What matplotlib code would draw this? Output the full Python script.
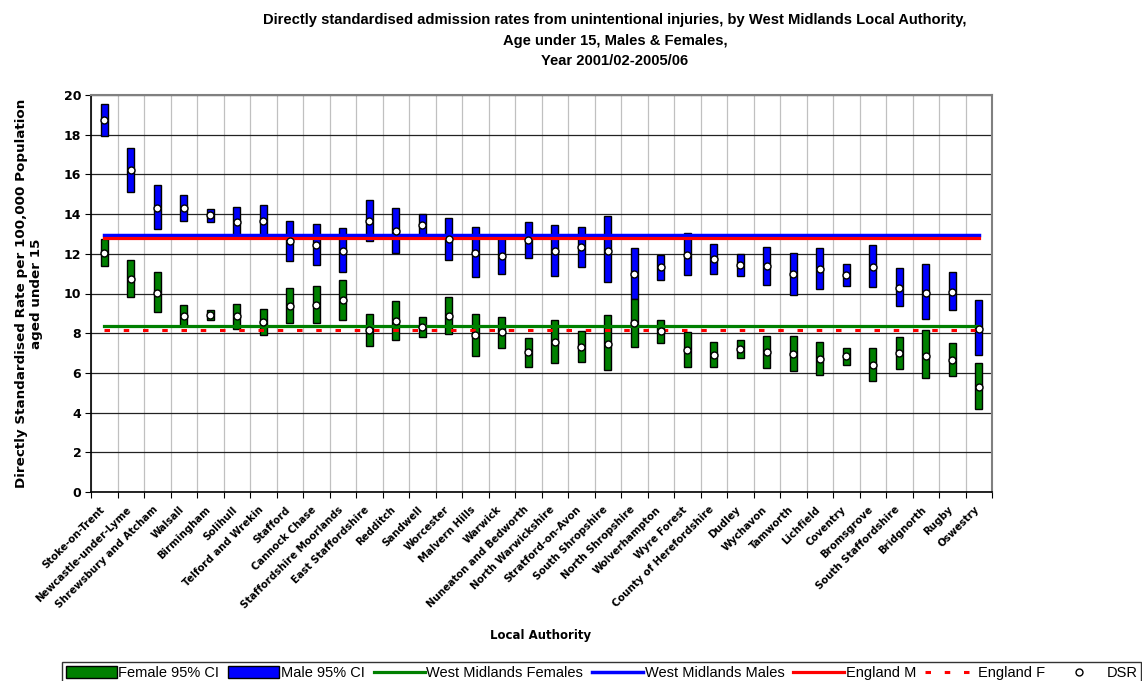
import numpy as np
import matplotlib.pyplot as plt
import matplotlib.transforms as mtransforms
from matplotlib.lines import Line2D
from matplotlib.patches import Patch

# Local authorities, ordered by male rate
authorities = [
    "Stoke-on-Trent", "Newcastle-under-Lyme", "Shrewsbury and Atcham", "Walsall",
    "Birmingham", "Solihull", "Telford and Wrekin", "Stafford", "Cannock Chase",
    "Staffordshire Moorlands", "East Staffordshire", "Redditch", "Sandwell",
    "Worcester", "Malvern Hills", "Warwick", "Nuneaton and Bedworth",
    "North Warwickshire", "Stratford-on-Avon", "South Shropshire", "North Shropshire",
    "Wolverhampton", "Wyre Forest", "County of Herefordshire", "Dudley", "Wychavon",
    "Tamworth", "Lichfield", "Coventry", "Bromsgrove", "South Staffordshire",
    "Bridgnorth", "Rugby", "Oswestry",
]

# Males: DSR and 95% confidence limits
male_dsr = [18.74, 16.21, 14.33, 14.29, 13.96, 13.62, 13.67, 12.64, 12.46, 12.15,
            13.65, 13.15, 13.45, 12.73, 12.04, 11.89, 12.68, 12.12, 12.32, 12.15,
            10.96, 11.31, 11.95, 11.73, 11.43, 11.38, 10.96, 11.23, 10.94, 11.36,
            10.30, 10.05, 10.10, 8.22]
male_lo = [17.93, 15.13, 13.23, 13.64, 13.62, 12.90, 12.90, 11.65, 11.45, 11.08,
           12.64, 12.05, 12.90, 11.67, 10.82, 10.98, 11.77, 10.86, 11.36, 10.57,
           9.70, 10.66, 10.91, 10.98, 10.88, 10.44, 9.93, 10.22, 10.39, 10.32,
           9.38, 8.70, 9.18, 6.90]
male_hi = [19.55, 17.34, 15.47, 14.95, 14.26, 14.36, 14.48, 13.65, 13.52, 13.32,
           14.70, 14.33, 14.02, 13.79, 13.33, 12.80, 13.60, 13.45, 13.33, 13.91,
           12.31, 11.94, 13.05, 12.51, 11.99, 12.36, 12.05, 12.29, 11.48, 12.44,
           11.30, 11.50, 11.08, 9.68]

# Females: DSR and 95% confidence limits
female_dsr = [12.05, 10.72, 10.05, 8.89, 8.94, 8.86, 8.57, 9.39, 9.43, 9.65,
              8.15, 8.60, 8.30, 8.87, 7.91, 8.05, 7.04, 7.56, 7.32, 7.46,
              8.50, 8.10, 7.14, 6.92, 7.21, 7.04, 6.97, 6.70, 6.84, 6.40,
              6.99, 6.87, 6.65, 5.27]
female_lo = [11.38, 9.81, 9.09, 8.38, 8.69, 8.20, 7.91, 8.52, 8.50, 8.65,
             7.34, 7.66, 7.79, 7.98, 6.87, 7.27, 6.31, 6.50, 6.55, 6.16,
             7.32, 7.53, 6.28, 6.31, 6.73, 6.26, 6.11, 5.89, 6.38, 5.59,
             6.20, 5.76, 5.84, 4.19]
female_hi = [12.73, 11.68, 11.08, 9.43, 9.19, 9.49, 9.23, 10.30, 10.39, 10.69,
             8.97, 9.60, 8.80, 9.83, 8.99, 8.84, 7.76, 8.69, 8.13, 8.94,
             9.71, 8.65, 8.06, 7.56, 7.68, 7.85, 7.88, 7.58, 7.27, 7.27,
             7.83, 8.16, 7.49, 6.50]

# Reference rates
wm_males = 12.96
wm_females = 8.35
england_m = 12.79
england_f = 8.16

x = np.arange(len(authorities))
male_lo = np.array(male_lo)
male_hi = np.array(male_hi)
female_lo = np.array(female_lo)
female_hi = np.array(female_hi)

fig = plt.figure(figsize=(11.42, 6.81), dpi=100)
ax = fig.add_axes([91 / 1142, 1 - 492 / 681, 901 / 1142, 397 / 681])

bar_w = 0.27
ax.bar(x, male_hi - male_lo, bottom=male_lo, width=bar_w, color='#0000ff',
       edgecolor='black', linewidth=1.0, zorder=3)
ax.bar(x, female_hi - female_lo, bottom=female_lo, width=bar_w, color='#008000',
       edgecolor='black', linewidth=1.0, zorder=3)

n = len(x)
ax.plot(x, [wm_females] * n, color='#008000', lw=2.3, zorder=4)
ax.plot(x, [wm_males] * n, color='#0000ff', lw=2.5, zorder=4)
ax.plot(x, [england_m] * n, color='#ff0000', lw=2.3, zorder=4)
ax.plot(x, [england_f] * n, color='#ff0000', lw=2.2, dashes=(1.8, 4.5), zorder=4)

ax.plot(x, male_dsr, 'o', ms=5, mfc='white', mec='black', mew=1.0, zorder=5)
ax.plot(x, female_dsr, 'o', ms=5, mfc='white', mec='black', mew=1.0, zorder=5)

ax.set_xlim(-0.5, n - 0.5)
ax.set_ylim(0, 20)
ax.set_yticks(np.arange(0, 21, 2))
ax.set_yticklabels([str(v) for v in range(0, 21, 2)], fontsize=9, fontweight='bold')

# category boundaries carry the tick marks and vertical grid
ax.set_xticks(np.arange(-0.5, n, 1.0))
ax.set_xticklabels([])
ax.set_xticks(x, minor=True)
ax.set_xticklabels(authorities, minor=True, rotation=45, ha='right', va='top',
                   rotation_mode='anchor', fontsize=7.3, fontweight='bold')
ax.tick_params(axis='x', which='minor', length=0, pad=9)
ax.tick_params(axis='x', which='major', length=4, direction='out', color='black')
ax.tick_params(axis='y', length=4, direction='out', color='black', pad=3)

# nudge the slanted names so they end under their category
shift = mtransforms.ScaledTranslation(-5 / 100, 0, fig.dpi_scale_trans)
for lbl in ax.get_xticklabels(minor=True):
    lbl.set_transform(lbl.get_transform() + shift)

ax.grid(axis='y', color='#222222', lw=0.9, zorder=0)
ax.grid(axis='x', which='major', color='#c0c0c0', lw=0.9, zorder=0)
ax.set_axisbelow(True)

for side in ['top', 'right']:
    ax.spines[side].set_color('#808080')
    ax.spines[side].set_linewidth(1.5)
for side in ['left', 'bottom']:
    ax.spines[side].set_color('black')
    ax.spines[side].set_linewidth(1.2)

ax.set_ylabel('Directly Standardised Rate per 100,000 Population\naged under 15',
              fontsize=9.7, fontweight='bold')
ax.yaxis.set_label_coords(-0.053, 0.5)
fig.text(541 / 1142, 1 - 636 / 681, 'Local Authority', ha='center', va='center',
         fontsize=8.5, fontweight='bold')

fig.text(615 / 1142, 1 - 40.5 / 681,
         'Directly standardised admission rates from unintentional injuries, by West Midlands Local Authority,\n'
         'Age under 15, Males & Females,\nYear 2001/02-2005/06',
         ha='center', va='center', fontsize=10.6, fontweight='bold',
         family='Liberation Sans', linespacing=1.55)

handles = [
    Patch(facecolor='#008000', edgecolor='black', lw=1.0),
    Patch(facecolor='#0000ff', edgecolor='black', lw=1.0),
    Line2D([], [], color='#008000', lw=2.3),
    Line2D([], [], color='#0000ff', lw=2.5),
    Line2D([], [], color='#ff0000', lw=2.3),
    Line2D([], [], color='#ff0000', lw=2.2, dashes=(1.8, 4.5)),
    Line2D([], [], ls='none', marker='o', ms=5, mfc='white', mec='black', mew=1.0),
]
labels = ['Female 95% CI', 'Male 95% CI', 'West Midlands Females', 'West Midlands Males',
          'England M', 'England F', 'DSR']
leg = fig.legend(handles, labels, loc='lower left', bbox_to_anchor=(62 / 1142, -0.004),
                 ncol=7, frameon=True, fancybox=False, edgecolor='black',
                 prop={'family': 'Liberation Sans', 'size': 10.5},
                 handlelength=3.5, handleheight=0.9, handletextpad=0.12,
                 columnspacing=0.6, borderpad=0.25, borderaxespad=0.0)
leg.get_frame().set_linewidth(1.0)

fig.savefig('out.png', dpi=100)
